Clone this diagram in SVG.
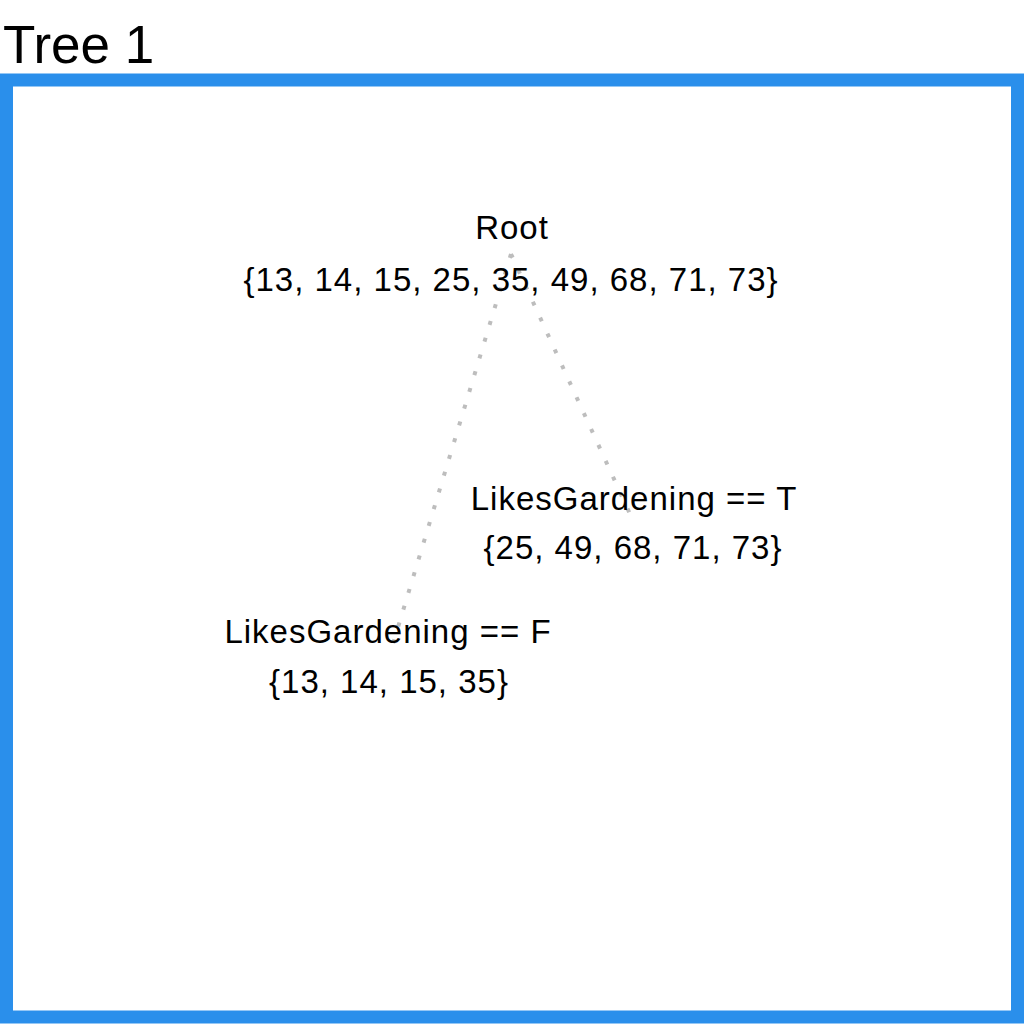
<svg xmlns="http://www.w3.org/2000/svg" width="1024" height="1024" viewBox="0 0 1024 1024">
<style>
.title{font-family:"Liberation Sans",Arial,sans-serif;font-size:53px;fill:#000}
.lbl{font-family:"Liberation Sans",Arial,sans-serif;font-size:33px;letter-spacing:1px;fill:#000;text-anchor:middle}
.edge{stroke:#bdbdbd;stroke-width:4;stroke-dasharray:4 13.5;fill:none}
</style>
<rect width="1024" height="1024" fill="#fff"/>
<text class="title" x="3" y="63">Tree 1</text>
<rect id="frame" x="6.5" y="80" width="1011" height="937" fill="none" stroke="#2a8feb" stroke-width="13"/>
<g id="connectors">
<line class="edge" x1="511" y1="254" x2="392" y2="647"/>
<line class="edge" x1="511" y1="254" x2="630" y2="514"/>
</g>
<g id="node-root">
<text class="lbl" x="512" y="239">Root</text>
<text class="lbl" x="511" y="291">{13, 14, 15, 25, 35, 49, 68, 71, 73}</text>
</g>
<g id="node-true">
<text class="lbl" x="634" y="510">LikesGardening == T</text>
<text class="lbl" x="633" y="559">{25, 49, 68, 71, 73}</text>
</g>
<g id="node-false">
<text class="lbl" x="388" y="643">LikesGardening == F</text>
<text class="lbl" x="389" y="693">{13, 14, 15, 35}</text>
</g>
</svg>
